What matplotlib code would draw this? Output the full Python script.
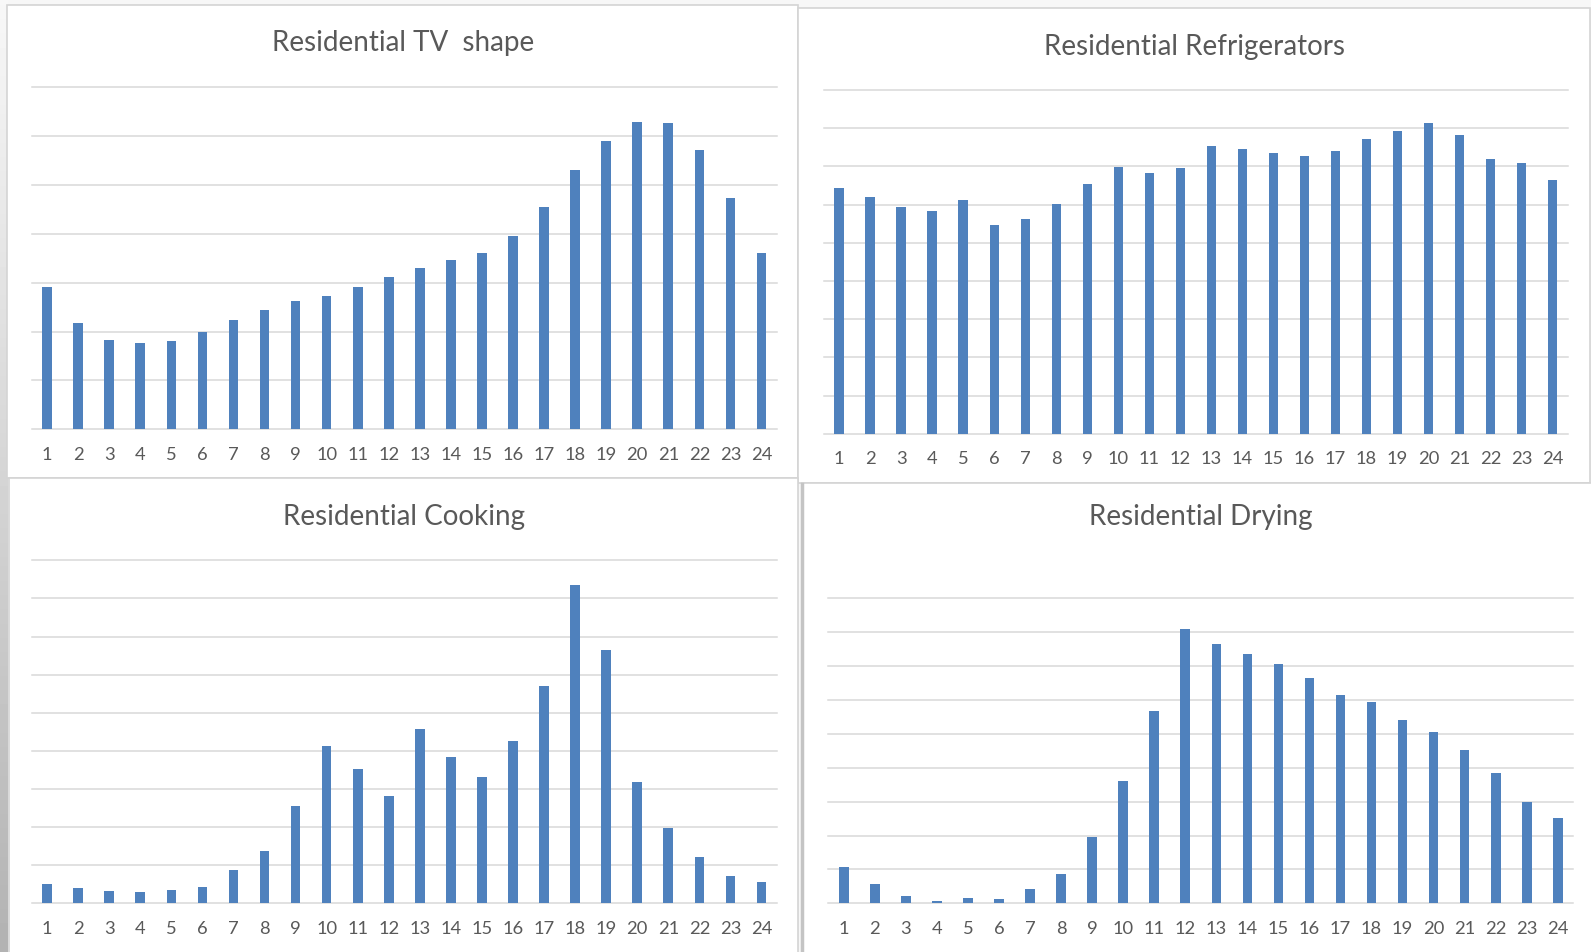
import matplotlib.pyplot as plt
import matplotlib.patches as mpatches
import numpy as np

plt.rcParams['font.family'] = ['Lato', 'DejaVu Sans']

W, H = 1591, 952

hours = [str(h) for h in range(1, 25)]

# hourly shapes, in units of one gridline step
tv = [2.91, 2.17, 1.82, 1.76, 1.80, 2.00, 2.23, 2.45, 2.62, 2.73, 2.91, 3.12,
      3.30, 3.47, 3.61, 3.96, 4.56, 5.31, 5.91, 6.28, 6.26, 5.72, 4.73, 3.61]
fridge = [6.43, 6.21, 5.93, 5.82, 6.13, 5.46, 5.62, 6.01, 6.55, 6.98, 6.82, 6.96,
          7.54, 7.45, 7.34, 7.26, 7.39, 7.71, 7.93, 8.14, 7.81, 7.20, 7.10, 6.65]
cooking = [0.51, 0.40, 0.31, 0.29, 0.34, 0.43, 0.87, 1.37, 2.56, 4.12, 3.53, 2.81,
           4.57, 3.84, 3.31, 4.25, 5.69, 8.36, 6.64, 3.17, 1.98, 1.21, 0.71, 0.56]
drying = [1.06, 0.57, 0.22, 0.07, 0.16, 0.13, 0.41, 0.86, 1.95, 3.60, 5.67, 8.08,
          7.65, 7.35, 7.06, 6.66, 6.15, 5.94, 5.41, 5.06, 4.53, 3.85, 3.00, 2.51]

BLUE = "#4f81bd"
GRID = "#d9d9d9"
TEXT = "#595959"
EDGE = "#d4d4d4"

fig = plt.figure(figsize=(W / 100, H / 100), dpi=100, facecolor="#f7f7f7")

# background layer in pixel coordinates for the chart frames
bg = fig.add_axes([0, 0, 1, 1])
grad = np.linspace(0.97, 0.70, 200).reshape(-1, 1)
bg.imshow(grad, cmap="gray", vmin=0, vmax=1, extent=(0, 8, H, 0), aspect="auto")
frames = [(7, 5, 798, 478), (798, 7.5, 1590, 483), (9, 478, 798, 960), (802, 483, 1600, 960)]
for x0, y0, x1, y1 in frames:
    bg.add_patch(mpatches.Rectangle((x0, y0), x1 - x0, y1 - y0, facecolor="white",
                                    edgecolor=EDGE, lw=1.2))
bg.plot([802, 802], [484, H], color="#c4c4c4", lw=2.5)
bg.set_xlim(0, W)
bg.set_ylim(H, 0)
bg.axis("off")


def panel(x0, x1, ytop, ybase, nlines, vals, title, tx, ty):
    ax = fig.add_axes([x0 / W, 1 - ybase / H, (x1 - x0) / W, (ybase - ytop) / H])
    x = np.arange(24)
    for k in range(nlines + 1):
        ax.axhline(k, color=GRID, lw=1.1, clip_on=False, zorder=1)
    ax.bar(x, vals, width=0.31, color=BLUE, zorder=3)
    ax.set_xlim(-0.5, 23.5)
    ax.set_ylim(0, nlines)
    ax.set_yticks([])
    ax.set_xticks(x, hours)
    ax.tick_params(axis='x', length=0, pad=12.5, labelsize=13.2, labelcolor=TEXT)
    for s in ax.spines.values():
        s.set_visible(False)
    ax.patch.set_visible(False)
    fig.text(tx / W, 1 - ty / H, title, ha='center', va='center', fontsize=20, color=TEXT)
    return ax


panel(31.6, 777, 87.3, 429.3, 7, tv, "Residential TV  shape", 403, 42.5)
panel(823.7, 1568.2, 90, 433.7, 9, fridge, "Residential Refrigerators", 1195, 47.5)
panel(31.6, 777, 560.3, 903.3, 9, cooking, "Residential Cooking", 404, 517.5)
panel(828.3, 1573.3, 598.3, 903.3, 9, drying, "Residential Drying", 1201, 517.5)

fig.savefig("out.png", dpi=100, facecolor=fig.get_facecolor())
